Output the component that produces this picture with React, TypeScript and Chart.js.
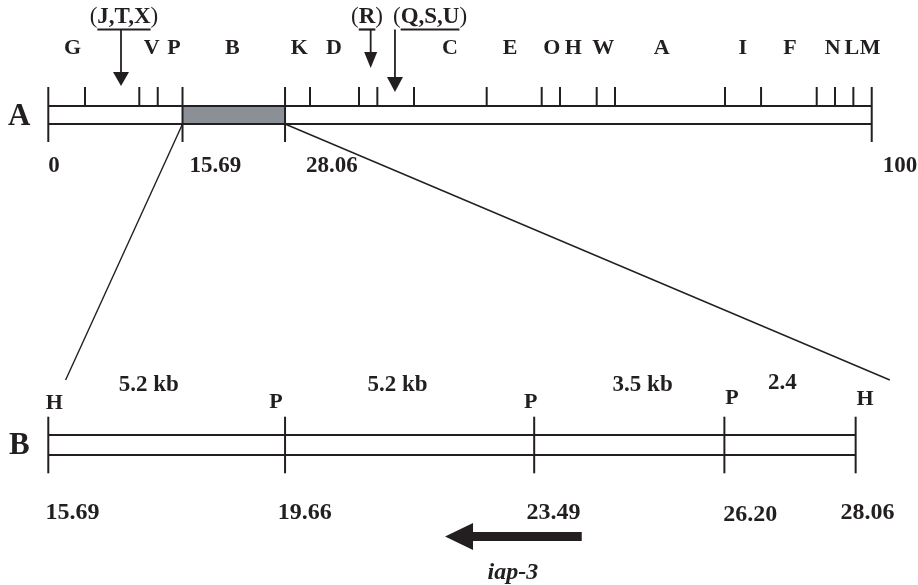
import React, { useEffect, useRef } from "react";
import { Chart, registerables } from "chart.js";

Chart.register(...registerables);

// ---------- Map A (genetic map, 0–100 scale; positions) ----------
const mapABoundaryPos = [0, 16.3, 28.75, 100];
const mapABoundaryLabels = ["0", "15.69", "28.06", "100"];
const mapAMarkerTicks = [4.46, 11.05, 13.29, 31.78, 37.73, 39.96, 44.41, 53.24, 59.92, 62.14, 66.6, 68.82, 82.18, 86.56, 93.32, 95.54, 97.77];
const mapALetters = ["G", "V", "P", "B", "K", "D", "C", "E", "O", "H", "W", "A", "I", "F", "N", "L", "M"];
const mapALetterPos = [2.96, 12.56, 15.27, 22.35, 30.48, 34.7, 48.79, 56.07, 61.14, 63.76, 67.4, 74.5, 84.33, 90.08, 95.26, 97.57, 99.8];
const insertionLabels = ["J,T,X", "R", "Q,S,U"];
const insertionPos = [8.83, 39.15, 42.1];
const insertionLabelPos = [9.19, 38.71, 46.36];

// ---------- Map B (restriction map of the 15.69–28.06 region; kb from left H site) ----------
const mapBSiteLetters = ["H", "P", "P", "P", "H"];
const mapBSitePos = [0, 4.78, 9.81, 13.65, 16.3];
const mapBSiteCoords = ["15.69", "19.66", "23.49", "26.20", "28.06"];
const mapBCoordLabelPos = [0.49, 5.18, 10.2, 14.17, 16.54];
const mapBFragments = ["5.2 kb", "5.2 kb", "3.5 kb", "2.4"];
const mapBFragmentPos = [2.03, 7.05, 12.0, 14.82];
const geneName = "iap-3";
const geneStart = 10.77;
const geneEnd = 8.01;
const geneLabelPos = 9.38;

// ---------- styles ----------
const INK = "#231f20";
const GREY = "#8b9096";
const SERIF = '"Liberation Serif", "Times New Roman", serif';

export default function App() {
  const ref = useRef<HTMLCanvasElement>(null);

  useEffect(() => {
    document.body.style.margin = "0";
    const canvas = ref.current;
    if (!canvas) return;

    const txt = (
      ctx: CanvasRenderingContext2D,
      s: string,
      x: number,
      y: number,
      font: string,
      align: CanvasTextAlign = "center",
      baseline: CanvasTextBaseline = "middle"
    ) => {
      ctx.font = font;
      ctx.textAlign = align;
      ctx.textBaseline = baseline;
      ctx.fillStyle = INK;
      ctx.fillText(s, x, y);
    };

    const line = (ctx: CanvasRenderingContext2D, x1: number, y1: number, x2: number, y2: number, w: number) => {
      ctx.beginPath();
      ctx.lineWidth = w;
      ctx.strokeStyle = INK;
      ctx.moveTo(x1, y1);
      ctx.lineTo(x2, y2);
      ctx.stroke();
    };

    const mapPlugin = {
      id: "mapDraw",
      beforeDatasetsDraw(chart: any) {
        const ctx: CanvasRenderingContext2D = chart.ctx;
        const xA = chart.scales.xA;
        const xB = chart.scales.xB;
        const y = chart.scales.y;
        const Y = (v: number) => y.getPixelForValue(v);
        ctx.save();
        // Map A bar
        const a0 = xA.getPixelForValue(mapABoundaryPos[0]);
        const a1 = xA.getPixelForValue(mapABoundaryPos[3]);
        const r0 = xA.getPixelForValue(mapABoundaryPos[1]);
        const r1 = xA.getPixelForValue(mapABoundaryPos[2]);
        ctx.fillStyle = GREY;
        ctx.fillRect(r0, Y(106), r1 - r0, Y(124) - Y(106));
        line(ctx, a0, Y(106), a1, Y(106), 2);
        line(ctx, a0, Y(124), a1, Y(124), 2);
        // connectors to map B
        line(ctx, r0, Y(124), xB.getPixelForValue(0.35), Y(380), 1.4);
        line(ctx, r1, Y(124), xB.getPixelForValue(16.99), Y(380), 1.4);
        // Map B bar
        const b0 = xB.getPixelForValue(mapBSitePos[0]);
        const b1 = xB.getPixelForValue(mapBSitePos[mapBSitePos.length - 1]);
        line(ctx, b0, Y(435), b1, Y(435), 2);
        line(ctx, b0, Y(455), b1, Y(455), 2);
        ctx.restore();
      },
      afterDatasetsDraw(chart: any) {
        const ctx: CanvasRenderingContext2D = chart.ctx;
        const xA = chart.scales.xA;
        const xB = chart.scales.xB;
        const y = chart.scales.y;
        const Y = (v: number) => y.getPixelForValue(v);
        ctx.save();

        // Row labels
        txt(ctx, "A", xA.getPixelForValue(0) - 29, Y(117), `bold 31px ${SERIF}`);
        txt(ctx, "B", xB.getPixelForValue(0) - 29, Y(445.5), `bold 31px ${SERIF}`);

        // Map A marker letters
        mapALetters.forEach((l, i) => {
          txt(ctx, l, xA.getPixelForValue(mapALetterPos[i]), Y(48), `bold 22px ${SERIF}`);
        });

        // Map A boundary numbers
        const aDx = [0, 7, 21, 11];
        mapABoundaryLabels.forEach((l, i) => {
          txt(ctx, l, xA.getPixelForValue(mapABoundaryPos[i]) + aDx[i], Y(166), `bold 23px ${SERIF}`, "left");
        });

        // Insertion arrows
        const tips = [86, 68, 92];
        const headH = [14, 16, 15];
        const headW = [16, 13, 16];
        insertionLabels.forEach((l, i) => {
          const cx = xA.getPixelForValue(insertionLabelPos[i]);
          const fr = `23px ${SERIF}`;
          const fb = `bold 23px ${SERIF}`;
          ctx.font = fr;
          const wl = ctx.measureText("(").width;
          const wr = ctx.measureText(")").width;
          ctx.font = fb;
          const wi = ctx.measureText(l).width;
          const start = cx - (wl + wi + wr) / 2;
          txt(ctx, "(", start, Y(17), fr, "left");
          txt(ctx, l, start + wl, Y(17), fb, "left");
          txt(ctx, ")", start + wl + wi, Y(17), fr, "left");
          line(ctx, start + wl, Y(29.5), start + wl + wi, Y(29.5), 2.2);
          const ax = xA.getPixelForValue(insertionPos[i]);
          const tip = Y(tips[i]);
          const hb = Y(tips[i] - headH[i]);
          line(ctx, ax, Y(29.5), ax, hb + 1, 1.8);
          ctx.beginPath();
          ctx.fillStyle = INK;
          ctx.moveTo(ax - headW[i] / 2, hb);
          ctx.lineTo(ax + headW[i] / 2, hb);
          ctx.lineTo(ax, tip);
          ctx.closePath();
          ctx.fill();
        });

        // Map B fragment sizes
        mapBFragments.forEach((f, i) => {
          txt(ctx, f, xB.getPixelForValue(mapBFragmentPos[i]), Y(i === 3 ? 383 : 385), `bold 23px ${SERIF}`);
        });

        // Map B site letters
        const sDx = [6, -9, -3.5, 7.7, 9.3];
        const sY = [403, 402, 402, 398, 399];
        mapBSiteLetters.forEach((l, i) => {
          txt(ctx, l, xB.getPixelForValue(mapBSitePos[i]) + sDx[i], Y(sY[i]), `bold 22px ${SERIF}`);
        });

        // Map B coordinates
        mapBSiteCoords.forEach((c, i) => {
          txt(ctx, c, xB.getPixelForValue(mapBCoordLabelPos[i]), Y(i === 3 ? 515 : 513), `bold 24px ${SERIF}`);
        });

        // Gene arrow
        const gs = xB.getPixelForValue(geneStart);
        const ge = xB.getPixelForValue(geneEnd);
        const gy = Y(536.5);
        const dir = ge < gs ? -1 : 1;
        const headLen = 28;
        const headHalf = 13.5;
        const shaftHalf = 4.5;
        ctx.beginPath();
        ctx.fillStyle = INK;
        ctx.moveTo(gs, gy - shaftHalf);
        ctx.lineTo(ge - dir * headLen, gy - shaftHalf);
        ctx.lineTo(ge - dir * headLen, gy - headHalf);
        ctx.lineTo(ge, gy);
        ctx.lineTo(ge - dir * headLen, gy + headHalf);
        ctx.lineTo(ge - dir * headLen, gy + shaftHalf);
        ctx.lineTo(gs, gy + shaftHalf);
        ctx.closePath();
        ctx.fill();
        txt(ctx, geneName, xB.getPixelForValue(geneLabelPos), Y(579), `italic bold 24px ${SERIF}`, "center", "alphabetic");

        ctx.restore();
      },
    };

    const tickStyle = {
      pointStyle: "line" as const,
      rotation: 90,
      borderColor: INK,
      backgroundColor: INK,
      borderWidth: 2,
      showLine: false,
    };

    const chart = new Chart(canvas, {
      type: "scatter",
      data: {
        datasets: [
          {
            label: "Map A marker intervals",
            xAxisID: "xA",
            data: mapAMarkerTicks.map((p) => ({ x: p, y: 96.5 })),
            pointRadius: 9.5,
            ...tickStyle,
          },
          {
            label: "Map A boundaries",
            xAxisID: "xA",
            data: mapABoundaryPos.map((p) => ({ x: p, y: 114.5 })),
            pointRadius: 27.5,
            ...tickStyle,
          },
          {
            label: "Map B sites",
            xAxisID: "xB",
            data: mapBSitePos.map((p) => ({ x: p, y: 445 })),
            pointRadius: 28.3,
            ...tickStyle,
          },
        ],
      },
      options: {
        responsive: false,
        animation: false,
        events: [],
        layout: { padding: 0, autoPadding: false },
        plugins: { legend: { display: false }, tooltip: { enabled: false } },
        scales: {
          xA: { type: "linear", axis: "x", position: "bottom", min: -5.866, max: 105.62, display: false },
          xB: { type: "linear", axis: "x", position: "bottom", min: -0.975, max: 17.559, display: false },
          y: { type: "linear", min: 0, max: 585, reverse: true, display: false },
        },
      } as any,
      plugins: [mapPlugin],
    });

    return () => chart.destroy();
  }, []);

  return <canvas ref={ref} width={918} height={585} style={{ display: "block", background: "#fff" }} />;
}
